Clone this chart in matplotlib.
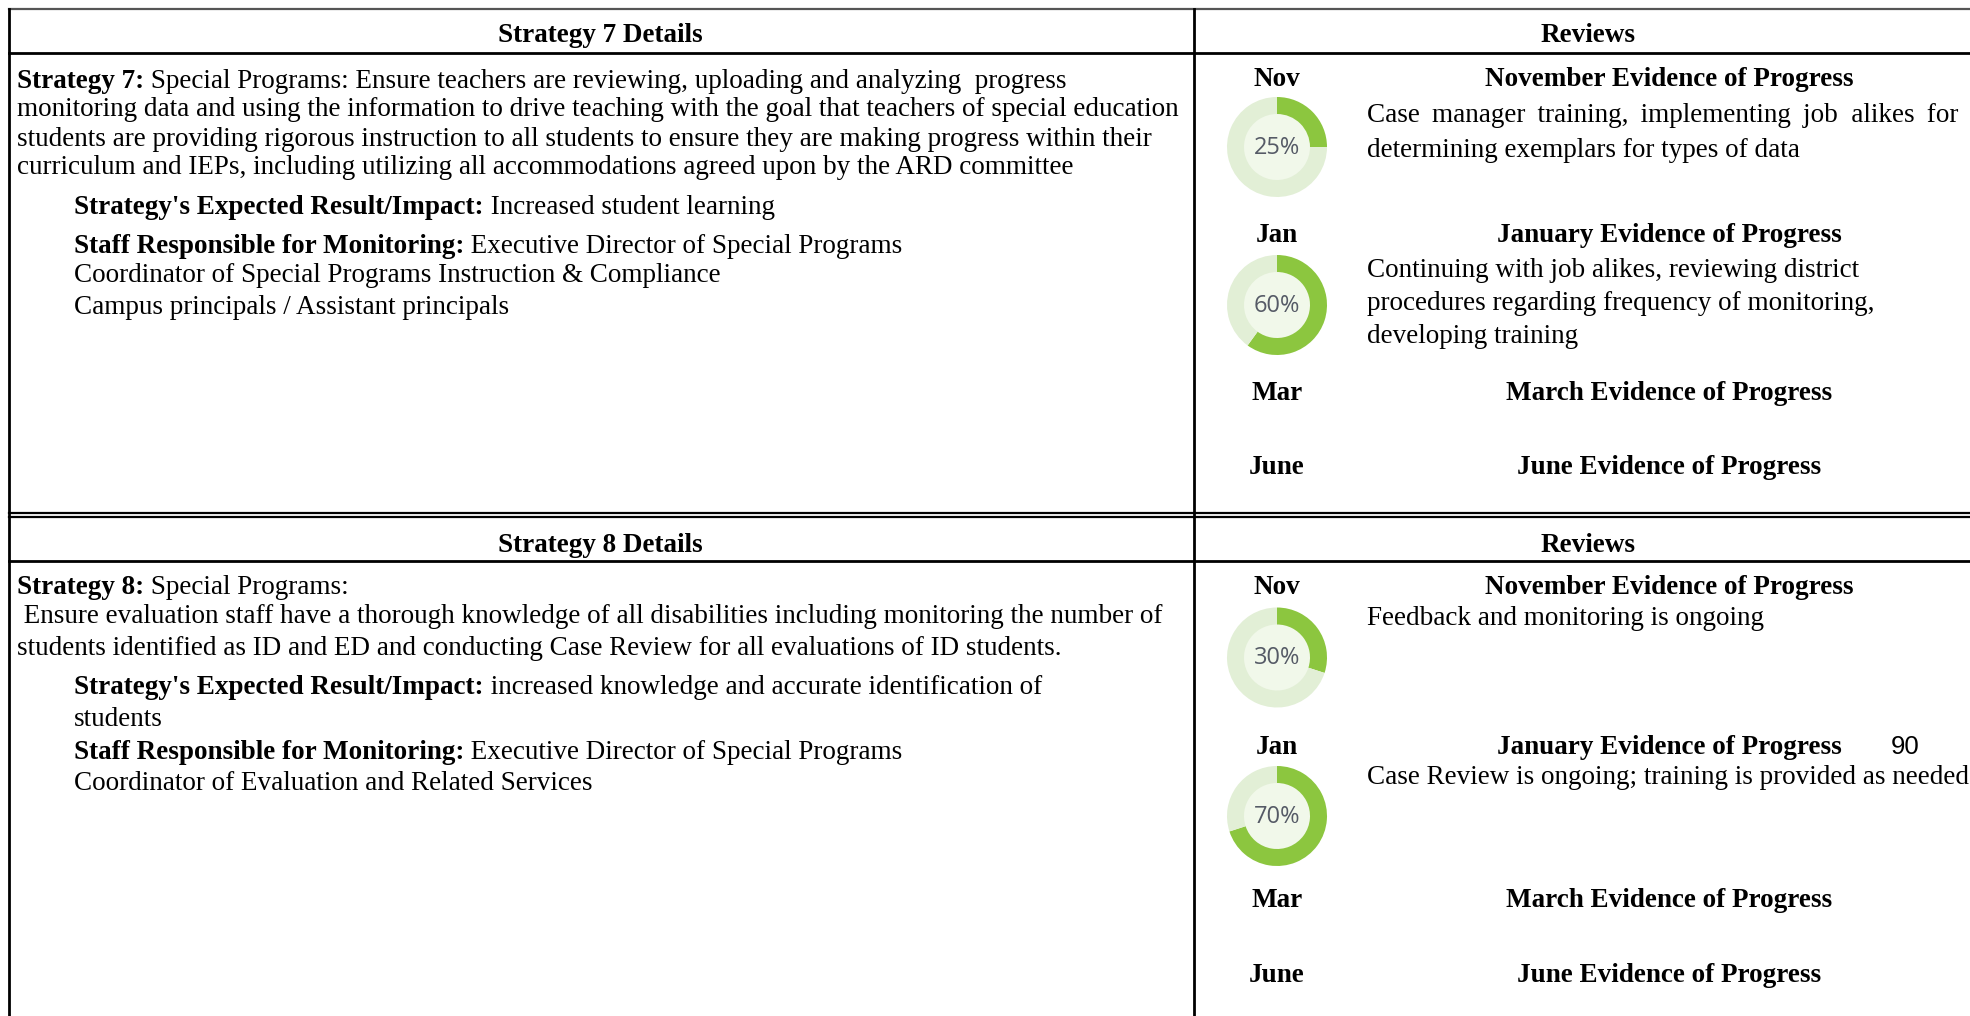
import matplotlib
matplotlib.use("Agg")
import matplotlib.pyplot as plt
from matplotlib.patches import Circle

W, H = 1970, 1016

# ---- content ----
headers_left = ["Strategy 7 Details", "Strategy 8 Details"]
header_right = "Reviews"

s7_lead = "Strategy 7:"
s7_lines = [" Special Programs: Ensure teachers are reviewing, uploading and analyzing  progress",
            "monitoring data and using the information to drive teaching with the goal that teachers of special education",
            "students are providing rigorous instruction to all students to ensure they are making progress within their",
            "curriculum and IEPs, including utilizing all accommodations agreed upon by the ARD committee"]
s7_result = " Increased student learning"
s7_staff = [" Executive Director of Special Programs",
            "Coordinator of Special Programs Instruction & Compliance",
            "Campus principals / Assistant principals"]

s8_lead = "Strategy 8:"
s8_lines = [" Special Programs:",
            " Ensure evaluation staff have a thorough knowledge of all disabilities including monitoring the number of",
            "students identified as ID and ED and conducting Case Review for all evaluations of ID students."]
s8_result = [" increased knowledge and accurate identification of", "students"]
s8_staff = [" Executive Director of Special Programs",
            "Coordinator of Evaluation and Related Services"]

months = ["Nov", "Jan", "Mar", "June"]
evidence_titles = ["November Evidence of Progress", "January Evidence of Progress",
                   "March Evidence of Progress", "June Evidence of Progress"]
s7_progress = [25, 60]
s8_progress = [30, 70]
# first line is a bit wider in the source (justified), pad the word gaps with thin spaces
s7_notes = [["Case\u2009 manager\u2009 training,\u2009 implementing\u2009 job  alikes\u2009 for",
             "determining exemplars for types of data"],
            ["Continuing with job alikes, reviewing district",
             "procedures regarding frequency of monitoring,",
             "developing training"]]
s8_notes = [["Feedback and monitoring is ongoing"],
            ["Case Review is ongoing; training is provided as needed"]]
page_number = "90"

# ---- styling ----
SERIF = ["Liberation Serif", "DejaVu Serif"]
FS = 19.5
GREEN = "#8cc63f"
RING_BG = "#e2efd6"
INNER = "#f1f8ea"

fig = plt.figure(figsize=(W / 100, H / 100), dpi=100)
ax = fig.add_axes([0, 0, 1, 1])
ax.set_xlim(0, W)
ax.set_ylim(H, 0)
ax.axis("off")

def txt(x, y, s, bold=False, ha="left", size=FS):
    return ax.text(x, y, s, fontsize=size, family=SERIF,
                   fontweight="bold" if bold else "normal",
                   ha=ha, va="baseline", color="black")

def after(prev, y, s, bold=False):
    # continue a line right after another text
    return ax.annotate(s, xy=(1, y), xycoords=(prev, "data"), fontsize=FS,
                       family=SERIF, fontweight="bold" if bold else "normal",
                       ha="left", va="baseline", color="black")

def donut(cx, cy, pct, r=50):
    a = fig.add_axes([(cx - r) / W, 1 - (cy + r) / H, 2 * r / W, 2 * r / H])
    a.pie([pct, 100 - pct], colors=[GREEN, RING_BG], startangle=90,
          counterclock=False, wedgeprops=dict(width=0.34, linewidth=0))
    a.add_patch(Circle((0, 0), 0.66, color=INNER, zorder=0))
    a.text(0, -0.02, f"{pct}%", ha="center", va="center", fontsize=17,
           family="Open Sans", color="#555a66")
    a.set_xlim(-1, 1)
    a.set_ylim(-1, 1)
    a.set_aspect("equal")
    a.axis("off")

# ---- table lines ----
LW = 2.0
XL, XD = 9, 1194
ax.plot([XL, W], [9, 9], color="#555555", lw=1.6)
ax.plot([XL, XL], [9, H], color="black", lw=LW)
ax.plot([XD, XD], [9, H], color="black", lw=LW)
for y in [53, 561]:
    ax.plot([XL, W], [y, y], color="black", lw=LW)
for y in [513, 517]:
    ax.plot([XL, W], [y, y], color="black", lw=1.6)

# ---- headers ----
for y, s in zip([41.5, 552], headers_left):
    txt(600, y, s, bold=True, ha="center")
    txt(1588, y, header_right, bold=True, ha="center")

# ---- strategy 7 left ----
t = txt(17, 87.5, s7_lead, bold=True)
after(t, 87.5, s7_lines[0])
for y, s in zip([116, 146.5, 174], s7_lines[1:]):
    txt(17, y, s)
t = txt(74, 213.5, "Strategy's Expected Result/Impact:", bold=True)
after(t, 213.5, s7_result)
t = txt(74, 253, "Staff Responsible for Monitoring:", bold=True)
after(t, 253, s7_staff[0])
for y, s in zip([282, 314], s7_staff[1:]):
    txt(74, y, s)

# ---- strategy 8 left ----
t = txt(17, 594, s8_lead, bold=True)
after(t, 594, s8_lines[0])
for y, s in zip([623, 655], s8_lines[1:]):
    txt(17, y, s)
t = txt(74, 694, "Strategy's Expected Result/Impact:", bold=True)
after(t, 694, s8_result[0])
txt(74, 726, s8_result[1])
t = txt(74, 759, "Staff Responsible for Monitoring:", bold=True)
after(t, 759, s8_staff[0])
txt(74, 790, s8_staff[1])

# ---- reviews ----
def reviews(month_y, donut_y, note_y, progress, notes):
    for y, m, title in zip(month_y, months, evidence_titles):
        txt(1277, y, m, bold=True, ha="center")
        txt(1669, y, title, bold=True, ha="center")
    for cy, p in zip(donut_y, progress):
        donut(1277, cy, p)
    for ys, lines in zip(note_y, notes):
        for y, s in zip(ys, lines):
            txt(1367, y, s)

reviews([86.5, 242.5, 399.5, 474.5], [147, 305], [[121.5, 157], [277, 310, 343]],
        s7_progress, s7_notes)
reviews([594.5, 754, 907, 982.5], [657.5, 816], [[625], [784]],
        s8_progress, s8_notes)

ax.text(1905, 754, page_number, fontsize=18.5, family="Liberation Sans",
        ha="center", va="baseline", color="black")

fig.savefig("out.png", dpi=100)
